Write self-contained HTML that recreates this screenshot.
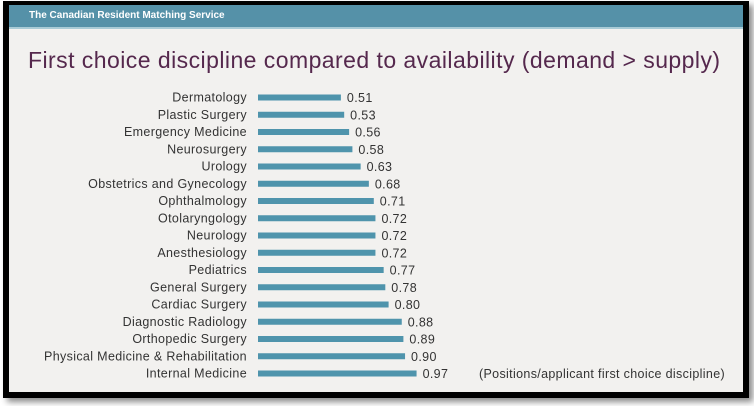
<!DOCTYPE html>
<html><head><meta charset="utf-8">
<style>
body{margin:0;width:754px;height:406px;background:#fff;overflow:hidden;font-family:"Liberation Sans","DejaVu Sans",sans-serif;}
#frame{position:absolute;left:3px;top:1px;width:734px;height:387px;border:6px solid #000;border-top-width:4px;background:#f2f1ef;box-shadow:4px 4px 6px rgba(0,0,0,0.45);}
#header{position:absolute;left:0;top:0;width:734px;height:22px;background:#5591a8;border-bottom:2px solid #a9cbd6;}
#header span{position:absolute;left:20px;top:5px;font-size:10px;font-weight:bold;color:#fff;}
#title{position:absolute;left:19px;top:42px;font-size:23px;color:#55284d;white-space:nowrap;letter-spacing:0.45px;}
svg{position:absolute;left:0;top:0;}
svg text{letter-spacing:0.35px;}
</style></head><body>
<div id="frame">
<div id="header"><span>The Canadian Resident Matching Service</span></div>
<div id="title">First choice discipline compared to availability (demand &gt; supply)</div>
</div>
<svg id="chart" width="754" height="406"></svg>
<script>
const categories=["Dermatology","Plastic Surgery","Emergency Medicine","Neurosurgery","Urology","Obstetrics and Gynecology","Ophthalmology","Otolaryngology","Neurology","Anesthesiology","Pediatrics","General Surgery","Cardiac Surgery","Diagnostic Radiology","Orthopedic Surgery","Physical Medicine & Rehabilitation","Internal Medicine"];
const values=[0.51,0.53,0.56,0.58,0.63,0.68,0.71,0.72,0.72,0.72,0.77,0.78,0.80,0.88,0.89,0.90,0.97];
const valueLabels=["0.51","0.53","0.56","0.58","0.63","0.68","0.71","0.72","0.72","0.72","0.77","0.78","0.80","0.88","0.89","0.90","0.97"];
const svg=document.getElementById('chart');
const NS='http://www.w3.org/2000/svg';
const x0=257,scale=164.5,y0=97.5,step=17.25;
function xs(v){return x0+v*scale;}
function ys(i){return y0+i*step;}
categories.forEach((c,i)=>{
  const y=ys(i);
  const t=document.createElementNS(NS,'text');
  
  
  t.setAttribute('x',247);t.setAttribute('y',y+4);t.setAttribute('text-anchor','end');
  t.setAttribute('font-size','12.5');t.setAttribute('fill','#333');t.textContent=c;svg.appendChild(t);
  const r=document.createElementNS(NS,'rect');
  
  
  r.setAttribute('x',xs(0)+1);r.setAttribute('y',y-3);r.setAttribute('width',xs(values[i])-xs(0)-1);r.setAttribute('height',6);
  r.setAttribute('fill','#4f94ac');svg.appendChild(r);
  const v=document.createElementNS(NS,'text');
  
  
  v.setAttribute('x',xs(values[i])+6);v.setAttribute('y',y+4.5);
  v.setAttribute('font-size','12.5');v.setAttribute('fill','#333');v.textContent=valueLabels[i];svg.appendChild(v);
});
const n=document.createElementNS(NS,'text');


n.setAttribute('x',725);n.setAttribute('y',ys(16)+4.5);n.setAttribute('text-anchor','end');
n.setAttribute('font-size','12.5');n.setAttribute('fill','#333');n.setAttribute('textLength','246');n.textContent='(Positions/applicant first choice discipline)';svg.appendChild(n);
</script>
</body></html>
